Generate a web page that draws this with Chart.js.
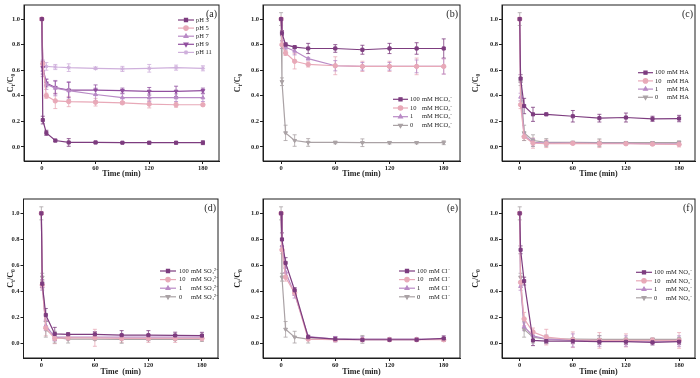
<!DOCTYPE html>
<html>
<head>
<meta charset="utf-8">
<script src="https://cdn.jsdelivr.net/npm/chart.js@4.4.1/dist/chart.umd.min.js"></script>
<style>
    html, body { margin: 0; padding: 0; background: #fff; }
    #wrap { position: relative; width: 700px; height: 378px; overflow: hidden; }
    #wrap canvas { position: absolute; }
</style>
</head>
<body>
<div id="wrap">
    <canvas id="pa" width="230" height="185" style="left:0;top:0"></canvas>
    <canvas id="pb" width="235" height="185" style="left:230px;top:0"></canvas>
    <canvas id="pc" width="235" height="185" style="left:465px;top:0"></canvas>
    <canvas id="pd" width="230" height="193" style="left:0;top:185px"></canvas>
    <canvas id="pe" width="235" height="193" style="left:230px;top:185px"></canvas>
    <canvas id="pf" width="235" height="193" style="left:465px;top:185px"></canvas>
</div>
<script>
const times = [0, 1, 5, 15, 30, 60, 90, 120, 150, 180]
const xTicks = [0, 60, 120, 180]
const yTicks = [0, 0.2, 0.4, 0.6, 0.8, 1.0]

// control run (0 mM), the same in panels b-f
const control = [1.0, 0.51, 0.11, 0.05, 0.035, 0.035, 0.033, 0.033, 0.033, 0.033]
const controlErr = [0.05, 0.03, 0.06, 0.045, 0.03, 0.01, 0.03, 0.01, 0.008, 0.015]

// (a) pH
const phLabels = ['pH 3', 'pH 5', 'pH 7', 'pH 9', 'pH 11']
const ph3 = [1.0, 0.21, 0.11, 0.05, 0.035, 0.035, 0.033, 0.033, 0.033, 0.033]
const ph3Err = [0.01, 0.03, 0.02, 0.01, 0.03, 0.01, 0.005, 0.01, 0.01, 0.015]
const ph5 = [1.0, 0.65, 0.40, 0.36, 0.355, 0.35, 0.345, 0.335, 0.33, 0.33]
const ph5Err = [0.01, 0.02, 0.02, 0.06, 0.04, 0.03, 0.01, 0.03, 0.02, 0.01]
const ph7 = [1.0, 0.60, 0.49, 0.46, 0.44, 0.41, 0.385, 0.385, 0.385, 0.385]
const ph7Err = [0.01, 0.05, 0.04, 0.06, 0.07, 0.05, 0.03, 0.03, 0.03, 0.03]
const ph9 = [1.0, 0.62, 0.50, 0.465, 0.445, 0.445, 0.44, 0.435, 0.435, 0.44]
const ph9Err = [0.01, 0.05, 0.03, 0.05, 0.06, 0.04, 0.02, 0.03, 0.04, 0.02]
const ph11 = [1.0, 0.65, 0.63, 0.625, 0.62, 0.615, 0.61, 0.615, 0.62, 0.615]
const ph11Err = [0.01, 0.03, 0.03, 0.02, 0.03, 0.01, 0.02, 0.03, 0.02, 0.02]

// concentrations used in b-f
const concLabels = ['100', '10', '1', '0']

// (b) HCO3-
const hco100 = [1.0, 0.89, 0.80, 0.78, 0.77, 0.77, 0.76, 0.77, 0.77, 0.77]
const hco100Err = [0.01, 0.02, 0.015, 0.01, 0.04, 0.03, 0.035, 0.04, 0.045, 0.075]
const hco10 = [1.0, 0.80, 0.735, 0.67, 0.645, 0.635, 0.63, 0.63, 0.63, 0.63]
const hco10Err = [0.01, 0.03, 0.02, 0.06, 0.02, 0.07, 0.04, 0.04, 0.065, 0.06]
const hco1 = [1.0, 0.80, 0.78, 0.75, 0.69, 0.635, 0.63, 0.63, 0.63, 0.63]
const hco1Err = [0.01, 0.03, 0.02, 0.03, 0.01, 0.04, 0.03, 0.03, 0.05, 0.06]

// (c) HA
const ha100 = [1.0, 0.535, 0.32, 0.255, 0.255, 0.24, 0.225, 0.23, 0.22, 0.222]
const ha100Err = [0.01, 0.03, 0.06, 0.055, 0.01, 0.045, 0.03, 0.035, 0.02, 0.025]
const ha10 = [1.0, 0.33, 0.08, 0.03, 0.025, 0.028, 0.025, 0.025, 0.022, 0.02]
const ha10Err = [0.01, 0.03, 0.03, 0.04, 0.03, 0.01, 0.03, 0.01, 0.01, 0.02]
const ha1 = [1.0, 0.39, 0.09, 0.035, 0.03, 0.03, 0.028, 0.028, 0.025, 0.025]
const ha1Err = [0.01, 0.03, 0.02, 0.03, 0.02, 0.01, 0.01, 0.01, 0.01, 0.01]

// (d) SO4 2-
const so100 = [1.0, 0.46, 0.22, 0.075, 0.072, 0.072, 0.065, 0.065, 0.063, 0.062]
const so100Err = [0.01, 0.03, 0.05, 0.05, 0.01, 0.02, 0.035, 0.035, 0.025, 0.025]
const so10 = [1.0, 0.45, 0.12, 0.04, 0.045, 0.045, 0.04, 0.04, 0.04, 0.04]
const so10Err = [0.01, 0.03, 0.06, 0.04, 0.02, 0.065, 0.03, 0.03, 0.03, 0.02]
const so1 = [1.0, 0.44, 0.14, 0.05, 0.05, 0.05, 0.05, 0.05, 0.05, 0.05]
const so1Err = [0.01, 0.03, 0.04, 0.03, 0.02, 0.02, 0.02, 0.02, 0.02, 0.02]

// (e) Cl-
const cl100 = [1.0, 0.80, 0.62, 0.41, 0.05, 0.035, 0.03, 0.03, 0.03, 0.04]
const cl100Err = [0.01, 0.05, 0.04, 0.02, 0.01, 0.02, 0.01, 0.01, 0.01, 0.02]
const cl10 = [1.0, 0.72, 0.51, 0.39, 0.035, 0.03, 0.03, 0.03, 0.03, 0.03]
const cl10Err = [0.01, 0.03, 0.03, 0.02, 0.01, 0.01, 0.01, 0.01, 0.01, 0.01]
const cl1 = [1.0, 0.75, 0.55, 0.38, 0.055, 0.035, 0.035, 0.035, 0.035, 0.035]
const cl1Err = [0.01, 0.04, 0.03, 0.03, 0.01, 0.02, 0.02, 0.01, 0.01, 0.01]

// (f) NO3-
const no100 = [1.0, 0.72, 0.48, 0.025, 0.02, 0.02, 0.015, 0.015, 0.01, 0.015]
const no100Err = [0.01, 0.03, 0.03, 0.04, 0.02, 0.02, 0.02, 0.02, 0.02, 0.02]
const no10 = [1.0, 0.47, 0.19, 0.09, 0.05, 0.03, 0.025, 0.025, 0.025, 0.025]
const no10Err = [0.01, 0.04, 0.05, 0.03, 0.06, 0.06, 0.06, 0.05, 0.02, 0.06]
const no1 = [1.0, 0.44, 0.13, 0.06, 0.035, 0.025, 0.02, 0.02, 0.02, 0.02]
const no1Err = [0.01, 0.03, 0.03, 0.03, 0.03, 0.05, 0.04, 0.04, 0.02, 0.04]

const SERIF = '"Liberation Serif", "Times New Roman", serif'
const INK = '#1e1e1e'

const purple = '#7d3c7f'
const pink = '#e8a9b8'
const lavender = '#b98ac6'
const grey = '#aaa2a5'
const phColors = [purple, pink, lavender, '#914f9f', '#cfb0dc']
const concColors = [purple, pink, lavender, grey]
const markers = [
    { style: 'rect', rot: 0 },
    { style: 'circle', rot: 0 },
    { style: 'triangle', rot: 0 },
    { style: 'triangle', rot: 180 },
    { style: 'star', rot: 0 },
]

// error bars drawn underneath lines and markers
const errorBars = {
    id: 'errorBars',
    beforeDatasetsDraw(chart) {
        const { ctx, scales: { x, y } } = chart
        chart.data.datasets.forEach(ds => {
            if (!ds.errors) return
            ctx.save()
            ctx.strokeStyle = ds.borderColor
            ctx.lineWidth = 0.8
            ds.data.forEach((p, j) => {
                const e = ds.errors[j]
                if (!e) return
                const px = x.getPixelForValue(p.x)
                const top = y.getPixelForValue(p.y + e)
                const bot = y.getPixelForValue(p.y - e)
                ctx.beginPath()
                ctx.moveTo(px, top); ctx.lineTo(px, bot)
                ctx.moveTo(px - 2, top); ctx.lineTo(px + 2, top)
                ctx.moveTo(px - 2, bot); ctx.lineTo(px + 2, bot)
                ctx.stroke()
            })
            ctx.restore()
        })
    }
}

// frame, panel tag, Ct/C0 title and the legend
const panelDecor = {
    id: 'panelDecor',
    afterDraw(chart, args, opts) {
        const { ctx, chartArea: a } = chart
        ctx.save()
        ctx.strokeStyle = INK
        ctx.lineWidth = 1
        ctx.strokeRect(a.left, a.top, a.right - a.left, a.bottom - a.top)

        ctx.fillStyle = INK
        ctx.font = '10px ' + SERIF
        ctx.textAlign = 'right'
        ctx.textBaseline = 'middle'
        ctx.fillText(opts.tag, a.right - 2, a.top + 9)

        // rotated y title with subscripts
        const parts = [['C', 8, 0], ['t', 5.5, 2], ['/C', 8, 0], ['0', 5.5, 2]]
        ctx.save()
        ctx.translate(a.left - opts.titleOff, (a.top + a.bottom) / 2)
        ctx.rotate(-Math.PI / 2)
        ctx.textAlign = 'left'
        ctx.textBaseline = 'alphabetic'
        let w = 0
        parts.forEach(p => { ctx.font = 'bold ' + p[1] + 'px ' + SERIF; w += ctx.measureText(p[0]).width })
        let cx = -w / 2
        parts.forEach(p => {
            ctx.font = 'bold ' + p[1] + 'px ' + SERIF
            ctx.fillText(p[0], cx, 3 + p[2])
            cx += ctx.measureText(p[0]).width
        })
        ctx.restore()

        // legend
        const lg = opts.legend
        chart.data.datasets.forEach((ds, i) => {
            const ly = lg.y + i * lg.dy
            ctx.strokeStyle = ds.borderColor
            ctx.fillStyle = ds.borderColor
            ctx.lineWidth = 1.2
            ctx.beginPath()
            ctx.moveTo(lg.x0, ly); ctx.lineTo(lg.x1, ly)
            ctx.stroke()
            Chart.helpers.drawPoint(ctx, {
                pointStyle: ds.pointStyle, rotation: ds.pointRotation,
                radius: 2.2, borderWidth: 1
            }, (lg.x0 + lg.x1) / 2, ly)
            ctx.fillStyle = INK
            ctx.font = '6.5px ' + SERIF
            ctx.textAlign = 'left'
            ctx.textBaseline = 'middle'
            if (opts.ion) {
                ctx.fillText(ds.label, lg.tx, ly)
                ctx.fillText('mM ' + opts.ion, lg.tx + 12, ly)
            } else {
                ctx.fillText(ds.label, lg.tx, ly)
            }
        })
        ctx.restore()
    }
}

function makeDatasets(labels, series, errs, colors) {
    return series.map((vals, i) => ({
        label: labels[i],
        data: times.map((t, j) => ({ x: t, y: vals[j] })),
        errors: errs[i],
        borderColor: colors[i],
        backgroundColor: colors[i],
        pointStyle: markers[i].style,
        pointRotation: markers[i].rot,
        pointRadius: 2.2,
        pointBorderWidth: 1,
        borderWidth: 1.2,
        tension: 0,
    }))
}

function makeChart(id, datasets, decor, box) {
    const tickFont = { family: SERIF, size: 6.5, weight: 'bold' }
    new Chart(document.getElementById(id), {
        type: 'line',
        data: { datasets },
        plugins: [errorBars, panelDecor],
        options: {
            responsive: false,
            animation: false,
            devicePixelRatio: 1,
            layout: { padding: { left: 0, top: box.top, right: box.right, bottom: 0 } },
            plugins: {
                legend: { display: false },
                tooltip: { enabled: false },
                panelDecor: decor,
            },
            scales: {
                x: {
                    type: 'linear',
                    min: -20,
                    max: 198,
                    afterFit: s => { s.height = box.xH },
                    afterBuildTicks: s => { s.ticks = xTicks.map(v => ({ value: v })) },
                    ticks: { font: tickFont, color: INK, padding: 0, maxRotation: 0 },
                    grid: { drawOnChartArea: false, drawTicks: true, tickLength: 3, color: INK },
                    border: { display: true, color: INK },
                    title: {
                        display: true,
                        text: decor.xTitle,
                        color: INK,
                        font: { family: SERIF, size: 8, weight: 'bold' },
                        padding: { top: 0, bottom: box.xTitlePad },
                    },
                },
                y: {
                    min: -0.11,
                    max: 1.11,
                    afterFit: s => { s.width = box.yW },
                    afterBuildTicks: s => { s.ticks = yTicks.map(v => ({ value: v })) },
                    ticks: { font: tickFont, color: INK, padding: 1, callback: v => v.toFixed(1) },
                    grid: { drawOnChartArea: false, drawTicks: true, tickLength: 3, color: INK },
                    border: { display: true, color: INK },
                },
            },
        },
    })
}

makeChart('pa',
    makeDatasets(phLabels, [ph3, ph5, ph7, ph9, ph11], [ph3Err, ph5Err, ph7Err, ph9Err, ph11Err], phColors),
    { tag: '(a)', titleOff: 14, xTitle: 'Time (min)', legend: { x0: 178, x1: 194, tx: 196, y: 20, dy: 8.1 } },
    { top: 1, right: 11, xH: 24, yW: 24, xTitlePad: 6 })

makeChart('pb',
    makeDatasets(concLabels, [hco100, hco10, hco1, control], [hco100Err, hco10Err, hco1Err, controlErr], concColors),
    { tag: '(b)', titleOff: 26, xTitle: 'Time (min)', ion: 'HCO\u2083\u207B', legend: { x0: 163, x1: 178, tx: 180, y: 99.3, dy: 8.7 } },
    { top: 1, right: 3, xH: 24, yW: 33, xTitlePad: 6 })

makeChart('pc',
    makeDatasets(concLabels, [ha100, ha10, ha1, control], [ha100Err, ha10Err, ha1Err, controlErr], concColors),
    { tag: '(c)', titleOff: 27, xTitle: 'Time (min)', ion: 'HA', legend: { x0: 173, x1: 188, tx: 190, y: 72.7, dy: 8.2 } },
    { top: 1, right: 3, xH: 24, yW: 37, xTitlePad: 6 })

makeChart('pd',
    makeDatasets(concLabels, [so100, so10, so1, control], [so100Err, so10Err, so1Err, controlErr], concColors),
    { tag: '(d)', titleOff: 14, xTitle: 'Time  (min)', ion: 'SO\u2084\u00B2\u207B', legend: { x0: 160, x1: 176, tx: 179, y: 86, dy: 8.6 } },
    { top: 14, right: 12, xH: 20, yW: 23.5, xTitlePad: 1.2 })

makeChart('pe',
    makeDatasets(concLabels, [cl100, cl10, cl1, control], [cl100Err, cl10Err, cl1Err, controlErr], concColors),
    { tag: '(e)', titleOff: 26, xTitle: 'Time (min)', ion: 'Cl\u207B', legend: { x0: 169, x1: 185, tx: 187, y: 86, dy: 8.6 } },
    { top: 14, right: 3, xH: 20, yW: 33, xTitlePad: 1.2 })

makeChart('pf',
    makeDatasets(concLabels, [no100, no10, no1, control], [no100Err, no10Err, no1Err, controlErr], concColors),
    { tag: '(f)', titleOff: 27, xTitle: 'Time (min)', ion: 'NO\u2083\u207B', legend: { x0: 171, x1: 187, tx: 189, y: 87.3, dy: 8.5 } },
    { top: 14, right: 2, xH: 20, yW: 37, xTitlePad: 1.2 })
</script>
</body>
</html>
